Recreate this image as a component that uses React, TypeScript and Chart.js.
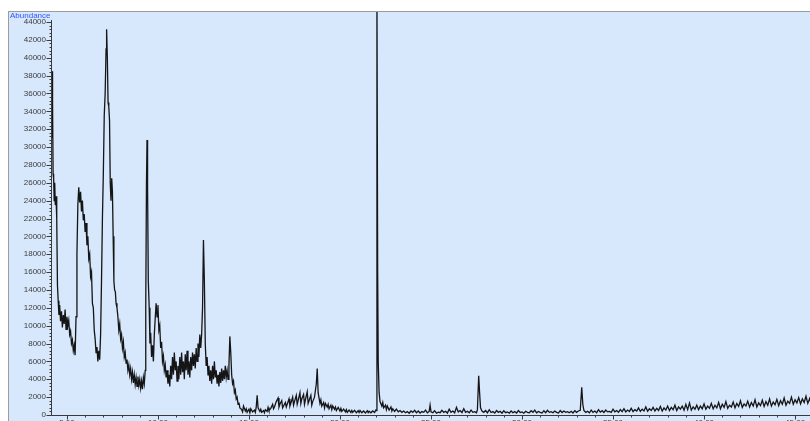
import React, { useEffect, useRef } from "react";
import { Chart, registerables } from "chart.js";

Chart.register(...registerables);

// Total ion chromatogram: [retention time (min), abundance]
const solventFront: [number, number][] = [
  [4.18, 38500], [4.2, 31000], [4.22, 35000], [4.24, 27000], [4.27, 26500], [4.3, 24000],
  [4.33, 26000], [4.36, 23500], [4.4, 24500], [4.44, 22000], [4.48, 14500], [4.52, 12800],
  [4.56, 11200], [4.6, 12300], [4.65, 10500], [4.7, 11600], [4.75, 9800], [4.8, 11200],
  [4.85, 10200], [4.9, 11800], [4.95, 9600], [5.0, 11000], [5.05, 10000], [5.1, 10600],
  [5.15, 9000], [5.2, 9400], [5.25, 8000], [5.3, 8400], [5.35, 7200], [5.4, 7800],
  [5.45, 6700], [5.5, 11000], [5.55, 18000], [5.6, 23500], [5.65, 25500], [5.7, 23800],
  [5.75, 25000], [5.8, 22800], [5.85, 24000], [5.9, 21800], [5.95, 22500], [6.0, 20500],
  [6.05, 21500], [6.1, 19000], [6.15, 20000], [6.2, 17500], [6.25, 18000], [6.3, 15500],
  [6.35, 16000], [6.4, 12500], [6.45, 12000], [6.5, 9500], [6.55, 8500], [6.6, 7000],
  [6.65, 7600], [6.7, 6000], [6.75, 7200], [6.8, 6200],
];

const mainPeak: [number, number][] = [
  [6.85, 9000], [6.9, 15000], [6.95, 22000], [7.0, 27000], [7.05, 33500], [7.1, 36000],
  [7.15, 41000], [7.18, 43200], [7.22, 40000], [7.26, 35000], [7.3, 34500], [7.34, 33000],
  [7.38, 26000], [7.42, 24000], [7.46, 26500], [7.5, 25000], [7.54, 20000], [7.58, 15000],
  [7.62, 14000], [7.66, 13800], [7.7, 12500], [7.75, 12000], [7.8, 11000], [7.85, 9500],
  [7.9, 10200], [7.95, 8500], [8.0, 9000], [8.05, 7500], [8.1, 8200], [8.15, 6500],
  [8.2, 7000], [8.25, 5800], [8.3, 6200], [8.35, 5000], [8.4, 5600], [8.45, 4500],
  [8.5, 5200], [8.55, 4000], [8.6, 4800], [8.65, 3600], [8.7, 4500], [8.75, 3400],
  [8.8, 4200], [8.85, 3200], [8.9, 4300], [8.95, 3300], [9.0, 4000], [9.05, 3000],
  [9.1, 3800], [9.15, 2900], [9.2, 4200], [9.25, 3500],
];

const secondCluster: [number, number][] = [
  [9.3, 5000], [9.33, 12000], [9.37, 26000], [9.4, 30800], [9.43, 25500], [9.47, 15000],
  [9.52, 12000], [9.56, 8000], [9.6, 9200], [9.65, 6500], [9.7, 7800], [9.75, 6000],
  [9.8, 9000], [9.85, 10800], [9.9, 12500], [9.95, 11000], [10.0, 12300], [10.05, 9500],
  [10.1, 10000], [10.15, 7500], [10.2, 8200], [10.25, 6000], [10.3, 6600], [10.35, 5000],
  [10.4, 5600], [10.45, 4200], [10.5, 5000], [10.55, 3500], [10.6, 4500], [10.65, 3200],
  [10.7, 5500], [10.75, 4000], [10.8, 6500], [10.85, 4500], [10.9, 7000], [10.95, 5000],
  [11.0, 6000], [11.05, 3800], [11.1, 5500], [11.15, 4000], [11.2, 6500], [11.25, 4500],
  [11.3, 7000], [11.35, 4800], [11.4, 6000], [11.45, 4000], [11.5, 6800], [11.55, 5000],
  [11.6, 7200], [11.65, 4500], [11.7, 6000], [11.75, 4200], [11.8, 6500], [11.85, 5000],
  [11.9, 7000], [11.95, 5500], [12.0, 6800], [12.05, 5200], [12.1, 7500], [12.15, 6000],
  [12.2, 8000], [12.25, 6500], [12.3, 9000], [12.35, 7500], [12.4, 9000], [12.45, 12000],
  [12.5, 19600], [12.55, 15000], [12.6, 8000], [12.65, 5500], [12.7, 6500], [12.75, 4500],
  [12.8, 5500], [12.85, 3800], [12.9, 5000], [12.95, 3500], [13.0, 5500], [13.05, 4000],
  [13.1, 6000], [13.15, 4200], [13.2, 5000], [13.25, 3500], [13.3, 4500], [13.35, 3200],
  [13.4, 4800], [13.45, 3600], [13.5, 5200], [13.55, 3800], [13.6, 5000], [13.65, 4000],
  [13.7, 5500], [13.75, 4200], [13.8, 5000], [13.85, 4000], [13.9, 5500], [13.95, 8800],
  [14.0, 7000], [14.05, 4500], [14.1, 3500], [14.15, 3800], [14.2, 2500], [14.25, 2800],
  [14.3, 1800], [14.35, 2000], [14.4, 1200], [14.45, 1400], [14.5, 800],
];

const midBaseline: [number, number][] = [
  [14.6, 600], [14.65, 350], [14.7, 1000], [14.8, 450], [14.85, 700], [14.9, 300], [15.0, 650],
  [15.05, 250], [15.1, 700], [15.2, 350], [15.3, 550], [15.35, 300], [15.4, 900], [15.45, 2200],
  [15.5, 800], [15.6, 400], [15.65, 650], [15.7, 300], [15.8, 500], [15.85, 250], [15.9, 600],
  [16.0, 400], [16.05, 850], [16.1, 500], [16.2, 750], [16.3, 1200], [16.35, 700], [16.4, 900],
  [16.5, 1500], [16.6, 1900], [16.65, 900], [16.7, 1200], [16.8, 1600], [16.85, 800], [16.9, 1000],
  [17.0, 1400], [17.05, 900], [17.1, 1200], [17.2, 1800], [17.25, 1000], [17.3, 1300], [17.4, 2000],
  [17.45, 1100], [17.5, 1500], [17.6, 2200], [17.65, 1200], [17.7, 1600], [17.8, 2500], [17.85, 1300],
  [17.9, 1800], [18.0, 2300], [18.05, 1200], [18.1, 1700], [18.2, 2600], [18.25, 1300], [18.3, 1600],
  [18.4, 2200], [18.45, 1100], [18.5, 1500], [18.6, 2000], [18.7, 3500], [18.75, 5200], [18.8, 2500],
  [18.9, 1300], [18.95, 1700], [19.0, 1000], [19.1, 1400], [19.15, 800], [19.2, 1300], [19.3, 900],
  [19.35, 1200], [19.4, 700], [19.5, 1100], [19.55, 600], [19.6, 1000], [19.7, 650], [19.75, 900],
  [19.8, 500], [19.9, 850], [20.0, 450], [20.05, 750], [20.1, 400], [20.2, 650], [20.3, 350],
  [20.35, 600], [20.4, 300], [20.5, 550], [20.6, 280], [20.65, 500], [20.7, 300], [20.8, 520],
  [20.9, 250], [21.0, 480], [21.05, 280], [21.1, 500], [21.2, 250], [21.3, 450], [21.4, 220],
  [21.5, 480], [21.55, 260], [21.6, 420], [21.7, 250], [21.8, 450], [21.9, 280], [21.97, 550],
];

const bigPeak: [number, number][] = [
  [22.0, 500], [22.03, 48000], [22.07, 16000], [22.1, 6000], [22.15, 2500], [22.2, 1500],
  [22.3, 1000], [22.35, 1400], [22.4, 800], [22.5, 1100], [22.55, 600], [22.6, 1000], [22.7, 550],
  [22.8, 900], [22.85, 450], [22.9, 700], [23.0, 400], [23.1, 650], [23.2, 350], [23.3, 500],
  [23.4, 300], [23.5, 450],
];

const lateBaseline: [number, number][] = [
  [23.6, 250], [23.7, 380], [23.8, 200], [23.9, 450], [24.0, 300], [24.1, 520], [24.2, 260],
  [24.3, 450], [24.4, 220], [24.5, 380], [24.6, 300], [24.7, 550], [24.8, 250], [24.9, 400],
  [24.95, 1100], [25.0, 350], [25.1, 250], [25.2, 480], [25.3, 200], [25.4, 320], [25.5, 260],
  [25.6, 520], [25.7, 300], [25.8, 420], [25.9, 220], [26.0, 650], [26.1, 300], [26.2, 450],
  [26.3, 250], [26.4, 850], [26.5, 350], [26.6, 500], [26.7, 280], [26.8, 700], [26.9, 300],
  [27.0, 420], [27.1, 250], [27.2, 550], [27.3, 300], [27.4, 380], [27.5, 260], [27.55, 600],
  [27.62, 4400], [27.67, 2500], [27.72, 800], [27.8, 450], [27.9, 300], [28.0, 500], [28.1, 250],
  [28.2, 600], [28.3, 280], [28.4, 380], [28.5, 220], [28.6, 500], [28.7, 300], [28.8, 420],
  [28.9, 200], [29.0, 480], [29.1, 260], [29.2, 350], [29.3, 200], [29.4, 450], [29.5, 250],
  [29.6, 380], [29.7, 220], [29.8, 500], [29.9, 280], [30.0, 350], [30.1, 200], [30.2, 420],
  [30.3, 300], [30.4, 250], [30.5, 480], [30.6, 300], [30.7, 550], [30.8, 250], [30.9, 400],
  [31.0, 300], [31.1, 220], [31.2, 480], [31.3, 260], [31.4, 520], [31.5, 300], [31.6, 380],
  [31.7, 250], [31.8, 450], [31.9, 300], [32.0, 220], [32.1, 500], [32.2, 280], [32.3, 450],
  [32.4, 300], [32.5, 380], [32.6, 250], [32.7, 420], [32.8, 230], [32.9, 480], [33.0, 300],
  [33.1, 450], [33.2, 520], [33.28, 3100], [33.34, 1200], [33.4, 500], [33.5, 300], [33.6, 420],
  [33.7, 250], [33.8, 550], [33.9, 300], [34.0, 450], [34.1, 250], [34.2, 600], [34.3, 320],
  [34.4, 480], [34.5, 280], [34.6, 550], [34.7, 350], [34.8, 400], [34.9, 300], [35.0, 650],
  [35.1, 350], [35.2, 500], [35.3, 300], [35.4, 600], [35.5, 380], [35.6, 700], [35.7, 350],
  [35.8, 550], [35.9, 400], [36.0, 750], [36.1, 380], [36.2, 600], [36.3, 450], [36.4, 800],
  [36.5, 400], [36.6, 650], [36.7, 450], [36.8, 900], [36.9, 420], [37.0, 700], [37.1, 500],
  [37.2, 850], [37.3, 450],
];

const risingBaseline: [number, number][] = [
  [37.4, 750], [37.5, 500], [37.6, 950], [37.7, 450], [37.8, 800], [37.9, 550], [38.0, 1000],
  [38.1, 500], [38.2, 850], [38.3, 600], [38.4, 1100], [38.5, 500], [38.6, 900], [38.7, 650],
  [38.8, 1000], [38.9, 550], [39.0, 1200], [39.1, 600], [39.2, 1350], [39.3, 550], [39.4, 900],
  [39.5, 650], [39.6, 1100], [39.7, 600], [39.8, 1000], [39.9, 700], [40.0, 1250], [40.1, 650],
  [40.2, 1000], [40.3, 750], [40.4, 1300], [40.5, 700], [40.6, 1100], [40.7, 800], [40.8, 1400],
  [40.9, 700], [41.0, 1200], [41.1, 850], [41.2, 1500], [41.3, 750], [41.4, 1100], [41.5, 900],
  [41.6, 1450], [41.7, 800], [41.8, 1300], [41.9, 950], [42.0, 1600], [42.1, 850], [42.2, 1250],
  [42.3, 1000], [42.4, 1550], [42.5, 900], [42.6, 1400], [42.7, 1000], [42.8, 1700], [42.9, 900],
  [43.0, 1350], [43.1, 1050], [43.2, 1650], [43.3, 950], [43.4, 1500], [43.5, 1100], [43.6, 1800],
  [43.7, 1000], [43.8, 1450], [43.9, 1150], [44.0, 1750], [44.1, 1050], [44.2, 1600], [44.3, 1200],
  [44.4, 1900], [44.5, 1100], [44.6, 1550], [44.7, 1300], [44.8, 2000], [44.9, 1200], [45.0, 1700],
  [45.1, 1350], [45.2, 1950], [45.3, 1250], [45.4, 1800], [45.5, 1400], [45.6, 2100], [45.7, 1300],
  [45.8, 1850], [45.85, 1500],
];

const yTickValues = [0, 2000, 4000, 6000, 8000, 10000, 12000, 14000, 16000, 18000, 20000,
  22000, 24000, 26000, 28000, 30000, 32000, 34000, 36000, 38000, 40000, 42000, 44000];
const yTickLabels = yTickValues.map((v) => String(v));
const xTickValues = [5, 10, 15, 20, 25, 30, 35, 40, 45];
const xTickLabels = ["5.00", "10.00", "15.00", "20.00", "25.00", "30.00", "35.00", "40.00", "45.00"];

const PANEL_BG = "#d7e7fc";
const FONT = "'Liberation Sans', Arial, sans-serif";

const framePlugin = {
  id: "frame",
  beforeDraw(chart: any) {
    const { ctx, width, height } = chart;
    ctx.save();
    ctx.fillStyle = "#ffffff";
    ctx.fillRect(0, 0, width, height);
    ctx.fillStyle = PANEL_BG;
    ctx.fillRect(8, 11, width - 8, height - 11);
    ctx.strokeStyle = "#9c9c9c";
    ctx.lineWidth = 1;
    ctx.beginPath();
    ctx.moveTo(8, 11.5);
    ctx.lineTo(width, 11.5);
    ctx.moveTo(8.5, 11);
    ctx.lineTo(8.5, height);
    ctx.stroke();
    ctx.restore();
  },
  afterDraw(chart: any) {
    const { ctx, chartArea, scales } = chart;
    const xs = scales.x;
    const ys = scales.y;
    const ax = Math.round(chartArea.left) - 0.5;
    const ay = Math.round(chartArea.bottom) + 0.5;
    ctx.save();
    ctx.strokeStyle = "#3a3a3a";
    ctx.lineWidth = 1;
    ctx.beginPath();
    ctx.moveTo(ax, 20);
    ctx.lineTo(ax, ay);
    ctx.lineTo(chartArea.right, ay);
    for (let v = 0; v <= 44000; v += 400) {
      const py = Math.round(ys.getPixelForValue(v)) + 0.5;
      ctx.moveTo(ax - 2, py);
      ctx.lineTo(ax, py);
    }
    yTickValues.forEach((v) => {
      const py = Math.round(ys.getPixelForValue(v)) + 0.5;
      ctx.moveTo(ax - 5, py);
      ctx.lineTo(ax, py);
    });
    for (let t = 5; t <= 45.8; t += 1) {
      const px = Math.round(xs.getPixelForValue(t)) + 0.5;
      ctx.moveTo(px, ay);
      ctx.lineTo(px, ay + 2);
    }
    xTickValues.forEach((t) => {
      const px = Math.round(xs.getPixelForValue(t)) + 0.5;
      ctx.moveTo(px, ay);
      ctx.lineTo(px, ay + 4);
    });
    ctx.stroke();

    ctx.fillStyle = "#3c3c3c";
    ctx.font = `8px ${FONT}`;
    ctx.textAlign = "right";
    ctx.textBaseline = "middle";
    yTickValues.forEach((v, i) => {
      ctx.fillText(yTickLabels[i], ax - 5.5, ys.getPixelForValue(v));
    });
    ctx.textAlign = "center";
    ctx.textBaseline = "top";
    xTickValues.forEach((t, i) => {
      ctx.fillText(xTickLabels[i], xs.getPixelForValue(t), ay + 3);
    });

    ctx.fillStyle = "#2f55ff";
    ctx.font = `8px ${FONT}`;
    ctx.textAlign = "left";
    ctx.textBaseline = "middle";
    ctx.fillText("Abundance", 10, 15.5);
    ctx.restore();
  },
};

export default function App() {
  const canvasRef = useRef<HTMLCanvasElement | null>(null);

  useEffect(() => {
    document.body.style.margin = "0";
    const canvas = canvasRef.current;
    if (!canvas) return;
    const points = [
      ...solventFront,
      ...mainPeak,
      ...secondCluster,
      ...midBaseline,
      ...bigPeak,
      ...lateBaseline,
      ...risingBaseline,
    ].map(([x, y]) => ({ x, y }));

    const chart = new Chart(canvas, {
      type: "line",
      data: {
        datasets: [
          {
            data: points,
            borderColor: "#151515",
            borderWidth: 1.3,
            pointRadius: 0,
            fill: false,
            tension: 0,
          },
        ],
      },
      options: {
        responsive: false,
        animation: false,
        devicePixelRatio: 1,
        layout: { padding: { left: 52, top: 12, right: 0, bottom: 6 } },
        plugins: { legend: { display: false }, tooltip: { enabled: false } },
        scales: {
          x: { type: "linear", min: 4.18, max: 45.82, display: false },
          y: { type: "linear", min: 0, max: 45120, display: false },
        },
      },
      plugins: [framePlugin],
    });
    return () => chart.destroy();
  }, []);

  return (
    <div style={{ width: 810, height: 421, overflow: "hidden" }}>
      <canvas ref={canvasRef} width={810} height={421} style={{ display: "block" }} />
    </div>
  );
}
